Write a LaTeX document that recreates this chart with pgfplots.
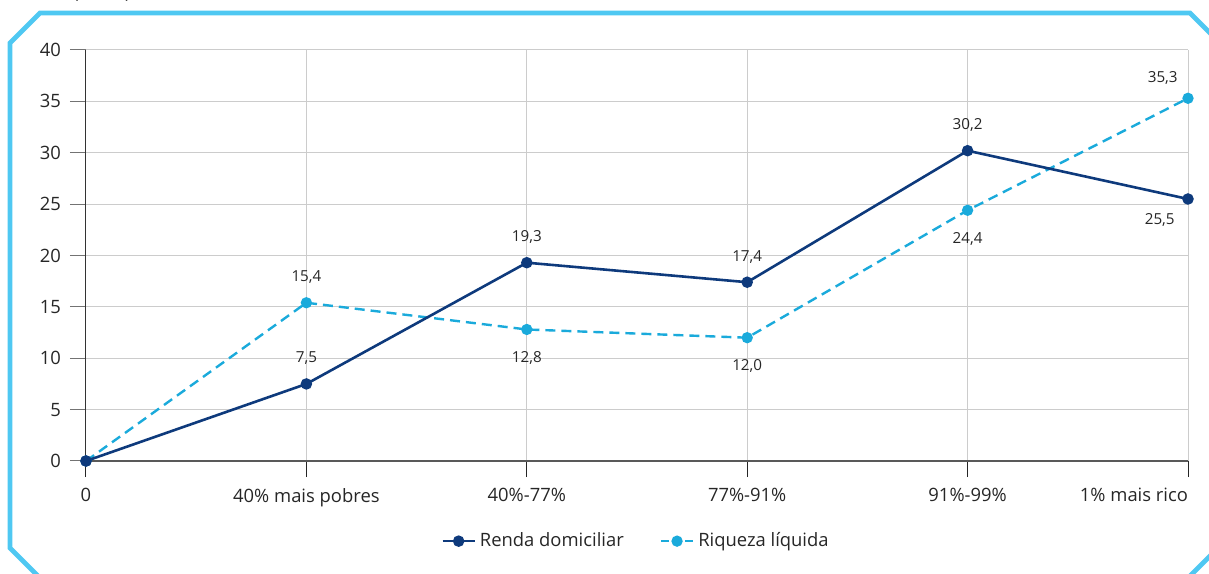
\documentclass[border=0pt]{standalone}
\usepackage{pgfplots}
\pgfplotsset{compat=1.18}
\usepackage{fontspec}
\setmainfont{Open Sans}
\definecolor{navy}{HTML}{0E3A7C}
\definecolor{lblue}{HTML}{1AAADB}
\definecolor{framec}{HTML}{4FC8F2}
\begin{document}
\begin{tikzpicture}
\draw[framec, line width=2.4pt, line join=miter]
  (5pt,265pt) -- (20pt,280pt) -- (595pt,280pt) -- (612.5pt,262.5pt) -- (612.5pt,16pt)
  -- (583pt,-13.5pt) -- (31pt,-13.5pt) -- (5pt,12.5pt) -- cycle;
\node[anchor=base west, inner sep=0pt, font=\fontsize{9}{10}\selectfont, text=black!85] at (36.5pt,287pt) {(em \%)};
\begin{axis}[
  at={(43pt,56pt)}, anchor=south west,
  scale only axis, width=551pt, height=205.5pt,
  xmin=0, xmax=5, ymin=0, ymax=40,
  axis x line=bottom, axis y line=left,
  x axis line style={-, draw=black!65, line width=1pt},
  y axis line style={-, draw=black!80, line width=0.5pt},
  xtick={0,1,2,3,4,5},
  xticklabels={0,40\% mais pobres,40\%-77\%,77\%-91\%,91\%-99\%,\makebox[0pt][r]{1\% mais rico}},
  ytick={0,5,...,40},
  grid=major, major grid style={draw=black!20, line width=0.5pt},
  tick align=outside, major tick length=8pt,
  xtick style={draw=black!85, line width=0.5pt},
  ytick style={draw=black!55, line width=0.5pt},
  tick label style={font=\fontsize{9.2}{10}\selectfont, text=black!85},
  xticklabel style={anchor=north, yshift=-2pt},
  yticklabel style={anchor=east, xshift=-1pt},
  /pgf/number format/assume math mode=true,
  clip=false,
  legend style={at={(0.5,-0.195)}, anchor=center, draw=none, fill=none,
    legend columns=2, font=\fontsize{9.2}{10}\selectfont, text=black!85,
    /tikz/every even column/.append style={column sep=16pt}},
  legend image code/.code={\draw[#1, mark repeat=2, mark phase=2] plot coordinates {(0pt,0pt) (8pt,0pt) (16pt,0pt)};},
  nodes near coords={\pgfmathprintnumber[use comma, fixed, fixed zerofill, precision=1]{\pgfplotspointmeta}},
]
\addplot[lblue, line width=1.2pt, dash pattern=on 5pt off 3pt, mark=*, mark size=2.2pt, mark options={solid}, forget plot, nodes near coords={}]
  coordinates {(0,0) (1,15.4) (2,12.8) (3,12.0) (4,24.4) (5,35.3)};
\addplot[navy, line width=1.3pt, mark=*, mark size=2.2pt, nodes near coords={}]
  coordinates {(0,0) (1,7.5) (2,19.3) (3,17.4) (4,30.2) (5,25.5)};
\addlegendentry{Renda domiciliar}
\addlegendimage{lblue, line width=1.2pt, dash pattern=on 4pt off 2pt, mark=*, mark size=2.2pt, mark options={solid}}
\addlegendentry{Riqueza líquida}
\addplot[navy, only marks, mark=*, mark size=2.6pt, forget plot, nodes near coords={}] coordinates {(0,0)};
% labels above
\addplot[draw=none, forget plot, nodes near coords style={anchor=base, inner sep=0pt, yshift=10.5pt, font=\fontsize{7.6}{8}\selectfont, text=black!85}]
  coordinates {(1,15.4) (1,7.5) (2,19.3) (3,17.4) (4,30.2)};
% labels below
\addplot[draw=none, forget plot, nodes near coords style={anchor=base, inner sep=0pt, yshift=-16.5pt, font=\fontsize{7.6}{8}\selectfont, text=black!85}]
  coordinates {(2,12.8) (3,12.0) (4,24.4)};
% last point labels
\addplot[draw=none, forget plot, nodes near coords style={anchor=base east, inner sep=0pt, xshift=-5pt, yshift=8pt, font=\fontsize{7.6}{8}\selectfont, text=black!85}]
  coordinates {(5,35.3)};
\addplot[draw=none, forget plot, nodes near coords style={anchor=base east, inner sep=0pt, xshift=-6.5pt, yshift=-13pt, font=\fontsize{7.6}{8}\selectfont, text=black!85}]
  coordinates {(5,25.5)};
\end{axis}
\pgfresetboundingbox
\path[use as bounding box] (0,0) rectangle (604.5pt,286.5pt);
\end{tikzpicture}
\end{document}
